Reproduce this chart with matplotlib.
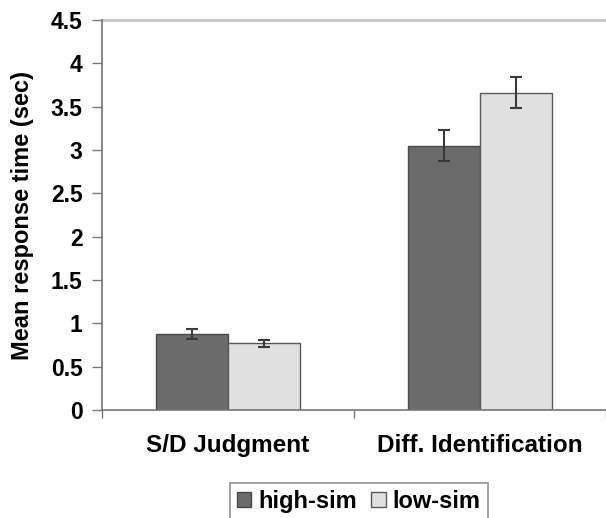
import numpy as np
import matplotlib.pyplot as plt

plt.rcParams['font.family'] = ['Liberation Sans', 'DejaVu Sans']

categories = ['S/D Judgment', 'Diff. Identification']
series = ['high-sim', 'low-sim']
high_sim = [0.88, 3.05]
low_sim = [0.77, 3.66]
high_err = [0.06, 0.18]
low_err = [0.04, 0.18]
yticks = [0, 0.5, 1, 1.5, 2, 2.5, 3, 3.5, 4, 4.5]

fig = plt.figure(figsize=(6.06, 5.18), dpi=100)
ax = fig.add_axes([102/606, 108/518, 504/606, 390/518])

x = np.arange(len(categories))
w = 0.286
ekw = dict(ecolor='#3a3a3a', elinewidth=1.5, capsize=4, capthick=1.5)
b1 = ax.bar(x - w/2, high_sim, w, yerr=high_err, color='#6b6b6b',
            edgecolor='#4a4a4a', linewidth=1, error_kw=ekw, label=series[0])
b2 = ax.bar(x + w/2, low_sim, w, yerr=low_err, color='#e0e0e0',
            edgecolor='#5a5a5a', linewidth=1, error_kw=ekw, label=series[1])

ax.set_xlim(-0.5, 1.5 - 6/255)
ax.set_ylim(0, 4.5)
ax.set_yticks(yticks)
ax.set_yticklabels(['0', '0.5', '1', '1.5', '2', '2.5', '3', '3.5', '4', '4.5'],
                   fontsize=16.5, fontweight='bold')
ax.axhline(4.5, color='#c8c8c8', linewidth=2, clip_on=False)

ax.set_xticks([-0.5, 0.5, 1.5])
ax.set_xticklabels([])
ax.tick_params(axis='x', length=6, color='#777777', width=1)
ax.tick_params(axis='y', length=7, color='#777777', width=1, pad=7)
for i, c in enumerate(categories):
    ax.text(x[i], -0.41, c, ha='center', va='center', fontsize=17.5,
            fontweight='bold', transform=ax.transData)

for s in ['top', 'right']:
    ax.spines[s].set_visible(False)
for s in ['left', 'bottom']:
    ax.spines[s].set_color('#777777')
    ax.spines[s].set_linewidth(1.2)

ax.set_ylabel('Mean response time (sec)', fontsize=17, fontweight='bold', labelpad=12)

leg = fig.legend(handles=[b1, b2], labels=series, loc='upper center',
                 bbox_to_anchor=(359/606, 1 - 483/518), ncol=2, frameon=True,
                 fancybox=False, edgecolor='#777777', prop={'weight': 'bold', 'size': 17},
                 handlelength=0.6, handleheight=0.6, handletextpad=0.3,
                 columnspacing=0.6, borderpad=0.3, borderaxespad=0)
leg.get_frame().set_linewidth(1.2)

fig.savefig('out.png', dpi=100)
